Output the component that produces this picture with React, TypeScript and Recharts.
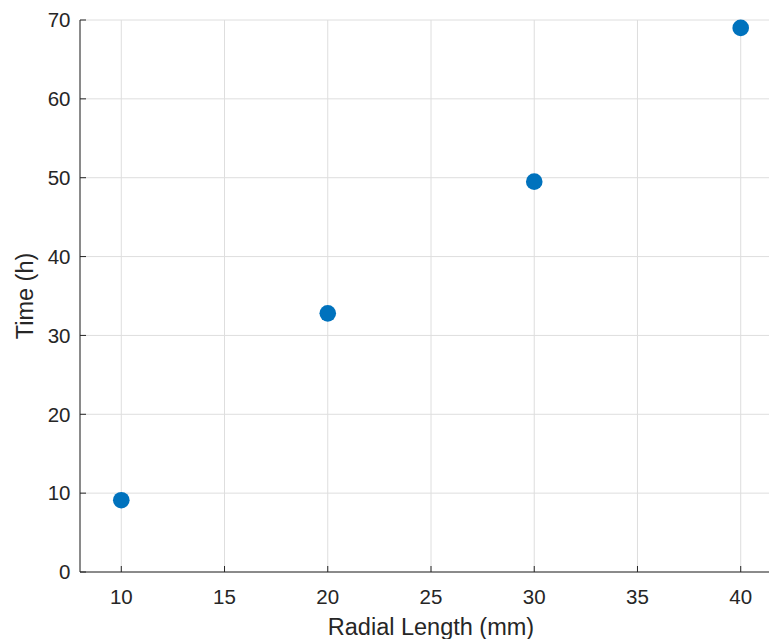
import { ScatterChart, Scatter, XAxis, YAxis, CartesianGrid, Label } from 'recharts';

const radialLength = [10, 20, 30, 40];
const timeHours = [9.1, 32.8, 49.5, 69.0];
const xTicks = [10, 15, 20, 25, 30, 35, 40];
const yTicks = [0, 10, 20, 30, 40, 50, 60, 70];

const MARKER = '#0072BD';
const AXIS = '#262626';
const FONT = '"Liberation Sans", Arial, Helvetica, sans-serif';

export default function App() {
  const data = radialLength.map((x, i) => ({ x, y: timeHours[i] }));

  return (
    <div
      style={{
        position: 'absolute',
        left: 0,
        top: 0,
        width: 769,
        height: 639,
        overflow: 'hidden',
        background: '#fff',
      }}
    >
      <ScatterChart
        width={800}
        height={640}
        margin={{ top: 20, right: 18, bottom: 0, left: 0 }}
        style={{ fontFamily: FONT }}
      >
        <CartesianGrid stroke="#dedede" strokeWidth={1} />
        <XAxis
          type="number"
          dataKey="x"
          domain={[8, 42]}
          ticks={xTicks}
          height={68}
          stroke={AXIS}
          tickSize={-6}
          tickMargin={23}
          tick={{ fill: AXIS, fontSize: 20.5, fontFamily: FONT }}
          allowDataOverflow
        >
          <Label
            value="Radial Length (mm)"
            position="insideBottom"
            offset={5}
            style={{ fill: AXIS, fontSize: 23.5, fontFamily: FONT }}
          />
        </XAxis>
        <YAxis
          type="number"
          dataKey="y"
          domain={[0, 70]}
          ticks={yTicks}
          width={80}
          stroke={AXIS}
          tickSize={-6}
          tickMargin={15.5}
          tick={{ fill: AXIS, fontSize: 20.5, fontFamily: FONT }}
        >
          <Label
            value="Time (h)"
            angle={-90}
            position="insideLeft"
            offset={25}
            style={{ fill: AXIS, fontSize: 23.5, fontFamily: FONT, textAnchor: 'middle' }}
          />
        </YAxis>
        <Scatter
          data={data}
          isAnimationActive={false}
          shape={(props: any) => <circle cx={props.cx} cy={props.cy} r={8.3} fill={MARKER} />}
        />
      </ScatterChart>
    </div>
  );
}
